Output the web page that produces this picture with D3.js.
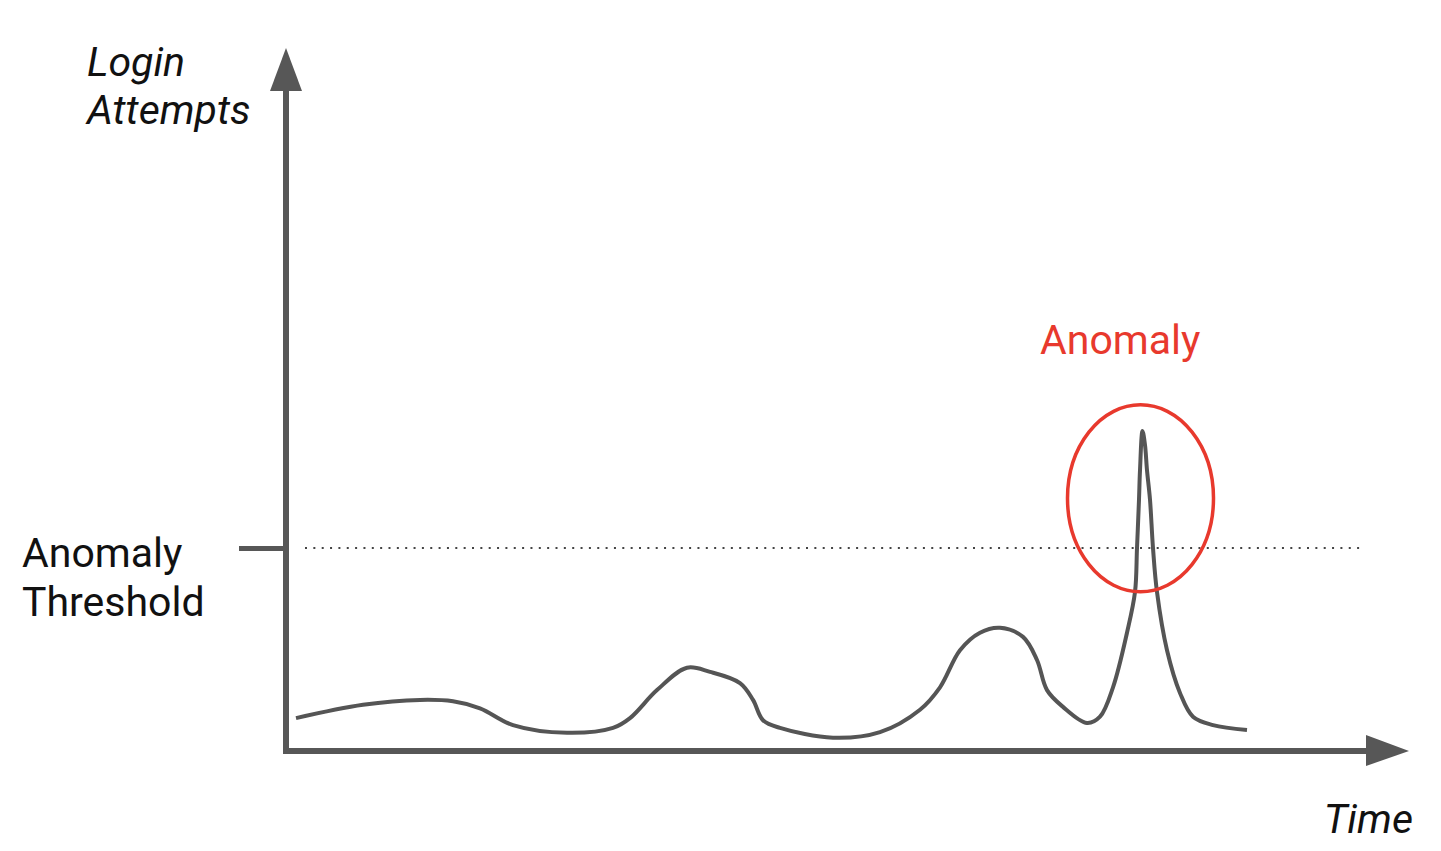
<!DOCTYPE html>
<html>
<head>
<meta charset="utf-8">
<script src="https://cdn.jsdelivr.net/npm/d3@7"></script>
<style>
  html, body { margin: 0; padding: 0; background: #ffffff; }
  svg { display: block; }
  text { font-family: Roboto, "Noto Sans", sans-serif; }
</style>
</head>
<body>
<svg id="chart" width="1441" height="851"></svg>
<script>
// ---- Data (time units, login attempts) ----
const timeValues = [10, 77, 134, 167, 194, 227, 281, 327, 344, 371, 401, 424, 454, 467, 477, 494,
  547, 594, 634, 654, 674, 694, 714, 737, 751, 761, 777, 801, 814, 827, 841, 849, 851, 853, 854,
  856.5, 859, 861, 864, 867, 871, 881, 894, 907, 927, 961];
const attemptValues = [47, 66, 73, 71, 61, 37, 26, 33, 47, 87, 119, 113, 97, 73, 44, 33,
  19, 27, 59, 91, 144, 169, 176, 163, 130, 87, 63, 40, 49, 91, 169, 227, 290, 359, 401,
  457, 437, 401, 359, 290, 227, 144, 83, 49, 37, 30];
const thresholdValue = [290];
const anomalyCenter = [854.5, 361];
const labels = {
  yTitle: ["Login", "Attempts"],
  xTitle: ["Time"],
  threshold: ["Anomaly", "Threshold"],
  anomaly: ["Anomaly"]
};

// ---- Layout ----
const svg = d3.select("#chart");
const axisColor = "#575757";
const x = d3.scaleLinear().domain([0, 1080]).range([286, 1366]);
const y = d3.scaleLinear().domain([0, 1000]).range([751, 51]);

const data = timeValues.map((t, i) => ({ t, v: attemptValues[i] }));

// Threshold dotted line
svg.append("line")
  .attr("x1", 305).attr("x2", 1364)
  .attr("y1", y(thresholdValue[0])).attr("y2", y(thresholdValue[0]))
  .attr("stroke", "#444").attr("stroke-width", 2)
  .attr("stroke-dasharray", "2,6.35");

// Y axis with threshold tick
const yAxis = d3.axisLeft(y).tickValues(thresholdValue).tickSize(47).tickSizeOuter(0).tickFormat("");
const yg = svg.append("g").attr("transform", `translate(${x(0)},0)`).call(yAxis);
yg.select(".domain").remove();
yg.selectAll(".tick line").attr("stroke", axisColor).attr("stroke-width", 5);

// Axis lines
svg.append("line")
  .attr("x1", x(0)).attr("x2", x(0))
  .attr("y1", y(0) + 3).attr("y2", 90)
  .attr("stroke", axisColor).attr("stroke-width", 6);
svg.append("line")
  .attr("x1", x(0) - 3).attr("x2", x.range()[1] + 1)
  .attr("y1", y(0)).attr("y2", y(0))
  .attr("stroke", axisColor).attr("stroke-width", 6);

// Arrowheads
svg.append("path")
  .attr("d", `M${x(0)},48 L${x(0) + 16},91 L${x(0) - 16},91 Z`)
  .attr("fill", axisColor);
svg.append("path")
  .attr("d", `M1409,${y(0)} L1366,${y(0) - 16} L1366,${y(0) + 15} Z`)
  .attr("fill", axisColor);

// Curve
const line = d3.line().x(d => x(d.t)).y(d => y(d.v)).curve(d3.curveCatmullRom.alpha(0.5));
svg.append("path")
  .datum(data)
  .attr("d", line)
  .attr("fill", "none")
  .attr("stroke", "#555555")
  .attr("stroke-width", 4);

// Anomaly ellipse
svg.append("ellipse")
  .attr("cx", x(anomalyCenter[0])).attr("cy", y(anomalyCenter[1]))
  .attr("rx", 73).attr("ry", 93.5)
  .attr("fill", "none")
  .attr("stroke", "#e8392d")
  .attr("stroke-width", 3.5);

// Texts
const fs = 41;
const yt = svg.append("text").attr("font-size", fs).attr("font-style", "italic").attr("fill", "#111");
yt.append("tspan").attr("x", 87).attr("y", 76).text(labels.yTitle[0]);
yt.append("tspan").attr("x", 87).attr("y", 124).text(labels.yTitle[1]);

svg.append("text").attr("font-size", fs).attr("font-style", "italic").attr("fill", "#111")
  .attr("text-anchor", "end").attr("x", 1413).attr("y", 833).text(labels.xTitle[0]);

const tt = svg.append("text").attr("font-size", fs).attr("fill", "#111");
tt.append("tspan").attr("x", 22).attr("y", 567).text(labels.threshold[0]);
tt.append("tspan").attr("x", 22).attr("y", 616).text(labels.threshold[1]);

svg.append("text").attr("font-size", fs).attr("fill", "#e8392d")
  .attr("x", 1040).attr("y", 354).text(labels.anomaly[0]);
</script>
</body>
</html>
